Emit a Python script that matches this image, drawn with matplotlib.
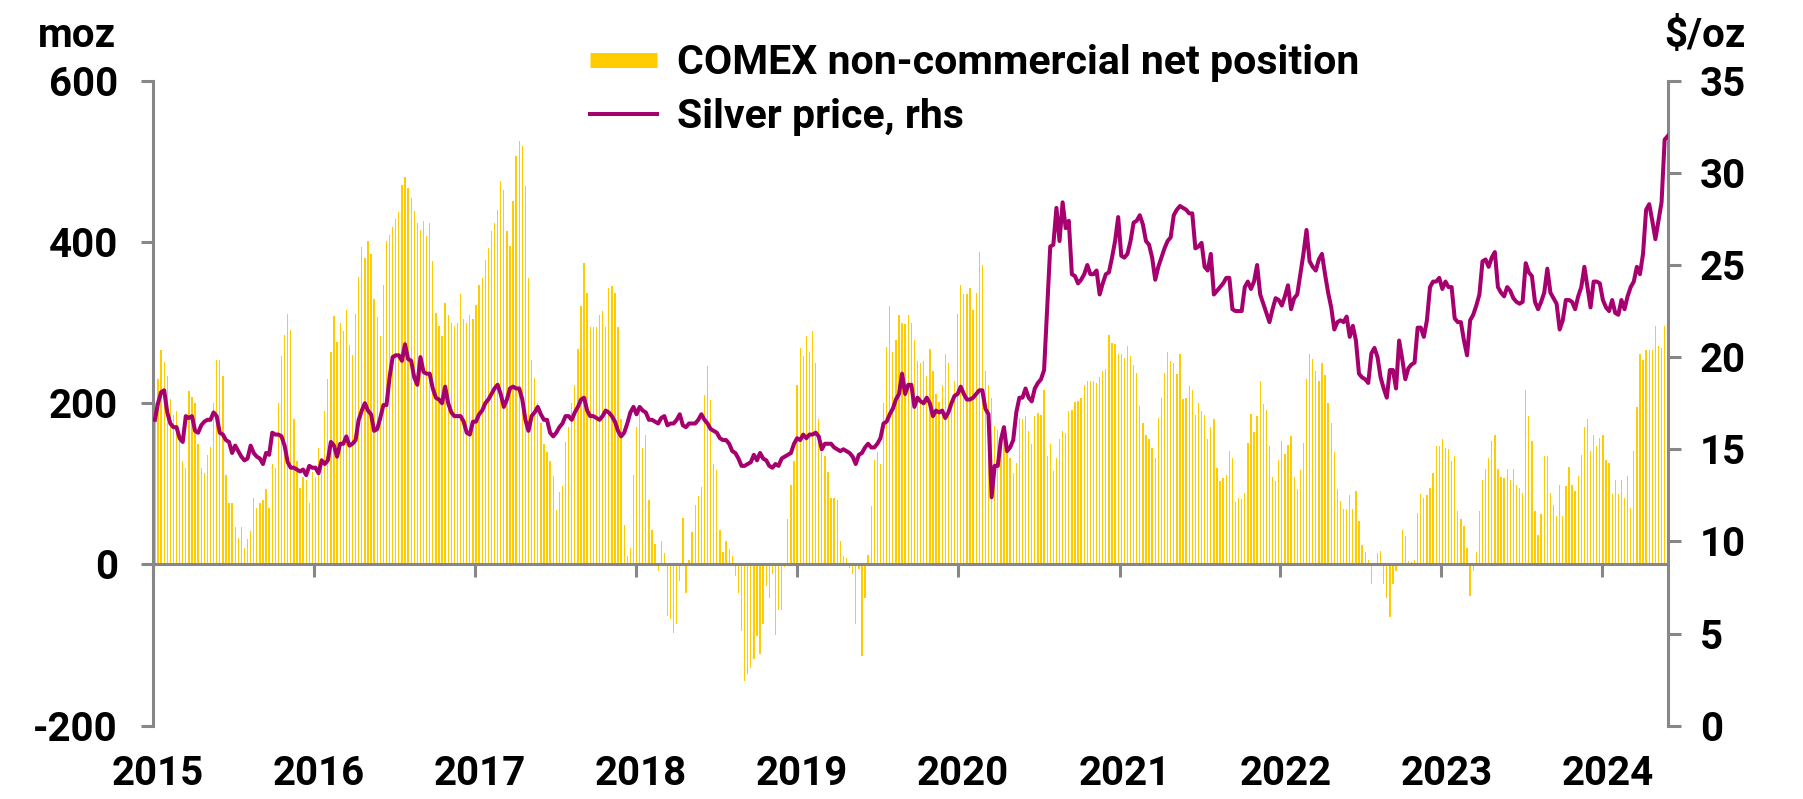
import matplotlib
matplotlib.use('Agg')
import matplotlib.pyplot as plt
import matplotlib.dates as mdates
from matplotlib.lines import Line2D
from matplotlib.transforms import ScaledTranslation
import pandas as pd

plt.rcParams['font.family'] = ['Roboto', 'Liberation Sans', 'DejaVu Sans']
plt.rcParams['font.weight'] = 'bold'
plt.rcParams['font.size'] = 29
plt.rcParams['axes.unicode_minus'] = False

# COMEX non-commercial net position, moz (weekly, first Tuesday of each year onwards)
net_2015 = [200, 230, 266, 251, 234, 205, 185, 190, 160, 128,
            120, 215, 208, 200, 150, 120, 113, 136, 146, 200,
            254, 253, 234, 111, 76, 76, 47, 33, 46, 21,
            31, 41, 82, 70, 76, 80, 93, 70, 124, 120,
            200, 258, 285, 311, 291, 180, 128, 95, 108, 105,
            76, 115]
net_2016 = [108, 144, 132, 190, 230, 263, 308, 276, 300, 289,
            316, 272, 260, 311, 356, 394, 380, 401, 385, 329,
            307, 283, 347, 401, 409, 418, 428, 437, 471, 480,
            467, 454, 438, 424, 415, 426, 407, 424, 376, 312,
            296, 283, 324, 310, 300, 296, 300, 335, 304, 300,
            310, 304]
net_2017 = [322, 347, 355, 378, 392, 413, 424, 440, 475, 465,
            413, 395, 451, 507, 525, 519, 470, 355, 254, 231,
            200, 175, 150, 140, 128, 110, 68, 90, 97, 152,
            170, 200, 223, 267, 320, 374, 337, 294, 294, 294,
            310, 314, 294, 343, 345, 337, 294, 180, 49, 10,
            20, 111]
net_2018 = [170, 190, 144, 160, 80, 43, 26, -8, 29, 14,
            -64, -68, -85, -74, -20, 58, -36, 5, 40, 74,
            85, 96, 210, 246, 204, 124, 117, 43, 16, 29,
            19, 10, -14, -36, -82, -144, -136, -128, -117, -89,
            -111, -74, -27, -42, -12, -87, -56, -56, -3, 56,
            98, 128]
net_2019 = [223, 268, 258, 283, 264, 290, 250, 180, 140, 134,
            115, 82, 82, 80, 29, 10, 8, -4, -12, -74,
            -6, -113, -41, 12, 72, 130, 140, 124, 200, 270,
            320, 264, 279, 310, 300, 298, 310, 300, 279, 252,
            250, 252, 234, 267, 240, 211, 201, 223, 261, 250,
            207, 227, 311]
net_2020 = [347, 335, 335, 343, 316, 337, 388, 372, 240, 223,
            207, 172, 167, 153, 155, 145, 132, 114, 126, 182,
            180, 184, 165, 149, 184, 188, 186, 217, 134, 149,
            116, 132, 155, 165, 163, 190, 192, 201, 203, 207,
            222, 227, 227, 227, 225, 232, 240, 242, 285, 275,
            273, 261]
net_2021 = [261, 256, 271, 258, 248, 238, 196, 175, 160, 155,
            145, 132, 182, 207, 238, 263, 252, 250, 236, 261,
            205, 207, 221, 217, 186, 200, 190, 186, 155, 170,
            180, 120, 104, 107, 111, 141, 132, 77, 83, 81,
            89, 151, 187, 164, 184, 227, 199, 191, 147, 108,
            103, 130]
net_2022 = [153, 137, 148, 159, 108, 94, 117, 151, 230, 261,
            255, 240, 228, 250, 235, 200, 176, 140, 93, 79,
            69, 69, 86, 69, 91, 54, 24, 15, 6, -24,
            2, 14, 17, -24, -42, -65, -24, -8, 2, 43,
            35, 4, 3, 6, 64, 87, 83, 86, 95, 114,
            147, 147]
net_2023 = [156, 145, 143, 128, 134, 66, 56, 48, 20, -39,
            -8, 15, 66, 105, 118, 132, 153, 161, 118, 108,
            107, 118, 105, 118, 99, 95, 89, 217, 184, 153,
            66, 37, 63, 134, 134, 89, 74, 60, 99, 60,
            97, 121, 99, 91, 110, 136, 170, 181, 141, 161,
            147, 157]
net_2024 = [161, 130, 126, 87, 105, 87, 105, 83, 110, 70,
            141, 195, 261, 253, 266, 266, 266, 296, 271, 268,
            296, 298]

# silver price, $/oz (same weeks)
px_2015 = [16.6, 17.5, 18.1, 18.2, 17.0, 16.4, 16.2, 16.2, 15.6, 15.4,
           16.8, 16.7, 16.8, 16.0, 15.9, 16.3, 16.5, 16.6, 16.6, 17.0,
           16.8, 15.9, 15.8, 15.5, 15.4, 14.8, 15.2, 14.9, 14.6, 14.4,
           14.5, 15.2, 14.8, 14.6, 14.5, 14.2, 14.8, 14.7, 15.9, 15.8,
           15.8, 15.7, 15.2, 14.3, 14.0, 14.0, 13.9, 13.8, 13.9, 13.6,
           14.1, 14.0]
px_2016 = [14.0, 13.7, 14.4, 14.2, 14.4, 15.4, 15.2, 14.6, 15.3, 15.3,
           15.7, 15.2, 15.3, 15.5, 16.6, 17.1, 17.5, 17.1, 16.9, 16.0,
           16.1, 16.7, 17.4, 17.4, 18.9, 20.0, 20.1, 20.1, 19.8, 20.7,
           19.9, 19.8, 18.9, 18.5, 20.0, 19.2, 19.1, 19.1, 18.3, 17.8,
           17.7, 17.5, 18.4, 17.5, 17.0, 16.8, 16.8, 16.8, 16.5, 15.9,
           15.8, 16.5]
px_2017 = [16.5, 16.9, 17.1, 17.5, 17.7, 18.0, 18.3, 18.5, 18.0, 17.3,
           17.7, 18.3, 18.4, 18.3, 18.3, 17.7, 16.6, 16.0, 16.8, 17.0,
           17.3, 16.9, 16.6, 16.6, 15.9, 15.7, 15.9, 16.2, 16.4, 16.8,
           16.8, 16.6, 17.0, 17.3, 17.7, 17.8, 17.1, 16.8, 16.8, 16.7,
           16.6, 16.8, 17.1, 17.0, 16.8, 16.5, 16.0, 15.7, 15.9, 16.4,
           17.0, 17.3]
px_2018 = [16.9, 17.3, 17.1, 17.0, 16.6, 16.6, 16.5, 16.4, 16.7, 16.8,
           16.3, 16.4, 16.4, 16.6, 16.9, 16.3, 16.2, 16.4, 16.4, 16.4,
           16.6, 16.9, 16.6, 16.4, 16.1, 16.0, 15.9, 15.6, 15.5, 15.5,
           15.3, 14.9, 14.8, 14.5, 14.1, 14.1, 14.2, 14.3, 14.7, 14.4,
           14.8, 14.5, 14.4, 14.1, 14.0, 14.2, 14.1, 14.5, 14.6, 14.7,
           14.8, 15.3]
px_2019 = [15.6, 15.5, 15.8, 15.6, 15.8, 15.8, 15.9, 15.7, 15.0, 15.3,
           15.3, 15.3, 15.1, 15.0, 14.9, 15.0, 14.9, 14.8, 14.6, 14.2,
           14.7, 14.8, 15.1, 15.3, 15.1, 15.1, 15.3, 15.6, 16.4, 16.5,
           16.9, 17.2, 17.7, 18.0, 19.1, 18.0, 18.5, 18.5, 17.3, 17.8,
           17.6, 17.5, 17.8, 17.5, 16.8, 17.1, 17.0, 17.1, 16.7, 17.0,
           17.5, 17.9, 18.0]
px_2020 = [18.4, 18.0, 17.7, 17.7, 17.8, 18.0, 18.2, 18.2, 17.2, 16.9,
           12.4, 14.1, 14.1, 15.5, 16.2, 14.9, 15.1, 15.5, 17.0, 17.8,
           17.8, 18.3, 17.8, 17.6, 18.3, 18.6, 18.8, 19.3, 22.7, 26.0,
           26.1, 28.1, 26.3, 28.4, 27.0, 27.4, 24.5, 24.4, 24.0, 24.2,
           24.5, 25.0, 24.5, 24.5, 24.7, 23.4, 24.0, 24.5, 24.6, 25.4,
           26.3, 27.6]
px_2021 = [25.5, 25.4, 25.6, 26.3, 27.3, 27.4, 27.7, 27.2, 26.3, 26.1,
           25.4, 24.2, 24.9, 25.4, 25.9, 26.3, 26.5, 27.7, 28.0, 28.2,
           28.1, 28.0, 27.8, 27.8, 25.9, 26.0, 26.2, 24.9, 24.7, 25.6,
           23.4, 23.6, 23.8, 24.0, 24.3, 24.3, 22.6, 22.5, 22.5, 22.5,
           23.8, 24.1, 23.7, 24.1, 25.0, 23.4, 22.9, 22.4, 21.9, 22.6,
           23.2, 23.1]
px_2022 = [22.8, 23.3, 23.9, 22.6, 23.2, 23.4, 24.5, 25.6, 26.9, 25.2,
           24.9, 24.7, 25.3, 25.6, 24.5, 23.5, 22.7, 21.5, 21.9, 22.0,
           21.9, 22.2, 21.1, 21.7, 20.9, 19.1, 18.9, 18.8, 18.6, 20.2,
           20.5, 20.0, 18.9, 18.3, 17.8, 19.3, 19.3, 18.3, 20.9, 19.9,
           18.8, 19.4, 19.6, 19.7, 21.6, 21.6, 21.1, 22.0, 23.8, 24.1,
           24.1, 24.3]
px_2023 = [23.7, 24.1, 23.8, 23.8, 22.1, 21.9, 21.9, 20.9, 20.1, 22.0,
           22.3, 22.8, 23.4, 25.2, 25.3, 24.9, 25.4, 25.7, 23.8, 23.5,
           23.3, 23.8, 23.6, 23.2, 23.0, 22.9, 23.0, 25.1, 24.6, 24.4,
           23.0, 22.6, 23.0, 23.5, 24.8, 23.5, 23.2, 22.9, 21.5, 22.0,
           23.1, 23.1, 23.0, 22.6, 23.3, 23.8, 24.9, 23.8, 22.7, 24.1,
           24.1, 24.0]
px_2024 = [23.1, 22.7, 22.5, 23.1, 22.4, 22.3, 23.1, 22.6, 23.3, 23.8,
           24.1, 24.9, 24.5, 25.6, 28.0, 28.3, 27.4, 26.4, 27.4, 28.4,
           31.8, 32.0]

net_position = (net_2015 + net_2016 + net_2017 + net_2018 + net_2019 +
                net_2020 + net_2021 + net_2022 + net_2023 + net_2024)
silver_price = (px_2015 + px_2016 + px_2017 + px_2018 + px_2019 +
                px_2020 + px_2021 + px_2022 + px_2023 + px_2024)
weeks = pd.date_range('2015-01-06', periods=len(net_position), freq='7D')

yellow = '#FFCC00'
purple = '#A6006E'
gray = '#878787'

fig = plt.figure(figsize=(18.03, 7.99), dpi=100)
ax = fig.add_axes([0.0847, 0.0917, 0.8404, 0.8073])
ax2 = ax.twinx()

ax.bar(weeks, net_position, width=3.0, color=yellow, linewidth=0, zorder=1)
ax2.plot(weeks, silver_price, color=purple, lw=2.9, solid_joinstyle='round', zorder=3)

ax.set_xlim(pd.Timestamp('2015-01-01'), pd.Timestamp('2024-05-28 12:00'))
ax.set_ylim(-200, 600)
ax.set_yticks([-200, 0, 200, 400, 600])
ax2.set_ylim(0, 35)
ax2.set_yticks(range(0, 36, 5))
ax.xaxis.set_major_locator(mdates.YearLocator())
ax.xaxis.set_major_formatter(mdates.DateFormatter('%Y'))

for a in (ax, ax2):
    for s in a.spines.values():
        s.set_visible(False)
        s.set_color(gray)
        s.set_linewidth(2.2)
ax.spines['left'].set_visible(True)
ax.spines['bottom'].set_visible(True)
ax.spines['bottom'].set_position(('data', 0))
ax2.spines['right'].set_visible(True)

ax.tick_params(axis='y', length=9, width=2.2, color=gray, pad=16)
ax.tick_params(axis='x', length=9, width=2.2, color=gray, pad=128)
ax2.tick_params(axis='y', length=9, width=2.2, color=gray, pad=14)

# year labels sit a touch right of their ticks
shift = ScaledTranslation(5 / 100, 0, fig.dpi_scale_trans)
for lab in ax.get_xticklabels():
    lab.set_transform(lab.get_transform() + shift)

fig.text(116 / 1803, 1 - 47 / 799, 'moz', ha='right', va='baseline')
fig.text(1746 / 1803, 1 - 47 / 799, r'\$/oz', ha='right', va='baseline')

handles = [Line2D([], [], color=yellow, lw=10.8, solid_capstyle='butt'),
           Line2D([], [], color=purple, lw=2.9)]
labels = ['COMEX non-commercial net position', 'Silver price, rhs']
fig.legend(handles, labels, loc='upper left', bbox_to_anchor=(590 / 1803, 1 - 44 / 799),
           frameon=False, fontsize=29.5, handlelength=1.63, handletextpad=0.5,
           labelspacing=0.4, borderpad=0, borderaxespad=0)

fig.savefig('out.png', dpi=100)
